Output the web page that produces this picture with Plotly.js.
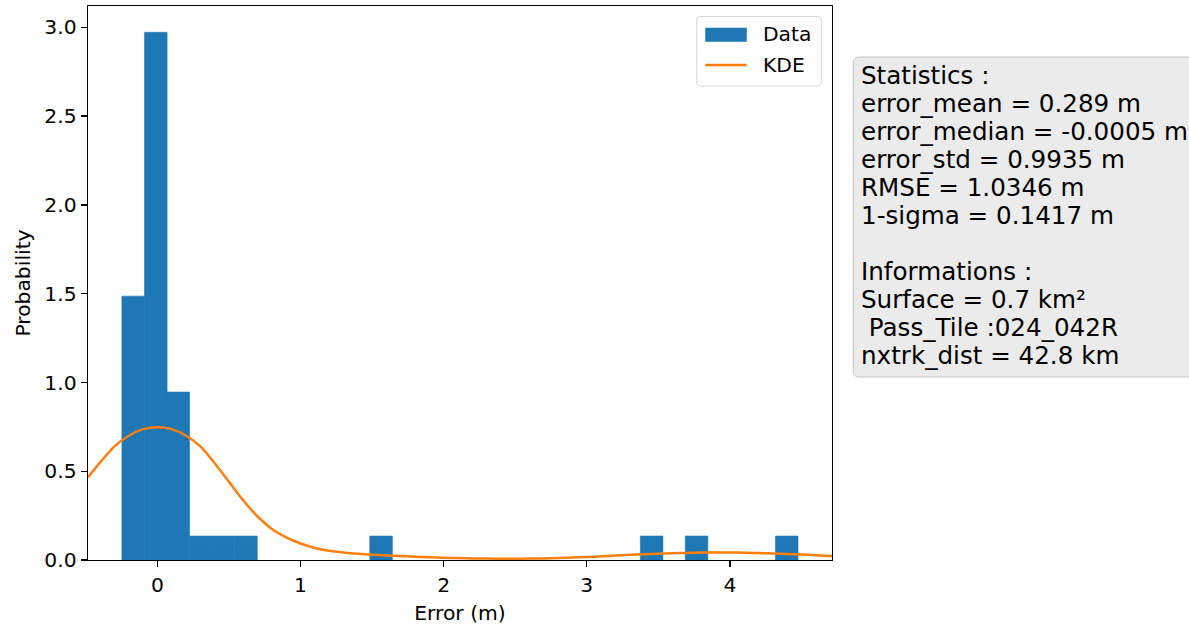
<!DOCTYPE html>
<html>
<head>
<meta charset="utf-8">
<script src="https://cdn.plot.ly/plotly-3.0.1.min.js"></script>
<style>html,body{margin:0;padding:0;background:#fff;}#chart{width:1189px;height:626px;}</style>
</head>
<body>
<div id="chart"></div>
<script>
// ---- Data ----
const binWidth = 0.1575;
const binLeft = [-0.248, -0.090, 0.067, 0.225, 0.382, 0.540, 1.484, 3.374, 3.688, 4.318];
const binDensity = [1.486, 2.972, 0.946, 0.135, 0.135, 0.135, 0.135, 0.135, 0.135, 0.135];

const kdeX = [-0.485, -0.4, -0.3, -0.2, -0.1, 0.0, 0.1, 0.2, 0.3, 0.4, 0.5, 0.6, 0.7, 0.8, 0.9, 1.0,
              1.1, 1.2, 1.3, 1.4, 1.5, 1.6, 1.7, 1.8, 1.9, 2.0, 2.1, 2.2, 2.3, 2.4, 2.5, 2.6, 2.7,
              2.8, 2.9, 3.0, 3.1, 3.2, 3.3, 3.4, 3.5, 3.6, 3.7, 3.8, 3.9, 4.0, 4.1, 4.2, 4.3, 4.4,
              4.5, 4.6, 4.7, 4.713];
const kdeY = [0.466, 0.550, 0.640, 0.700, 0.737, 0.748, 0.737, 0.700, 0.640, 0.545, 0.440, 0.335,
              0.245, 0.175, 0.128, 0.093, 0.068, 0.052, 0.042, 0.035, 0.030, 0.026, 0.023, 0.019,
              0.016, 0.013, 0.011, 0.009, 0.008, 0.007, 0.007, 0.008, 0.009, 0.011, 0.014, 0.017,
              0.021, 0.025, 0.029, 0.032, 0.035, 0.038, 0.040, 0.042, 0.042, 0.042, 0.041, 0.039,
              0.037, 0.034, 0.031, 0.027, 0.023, 0.023];

const xTicks = [0, 1, 2, 3, 4];
const yTicks = [0.0, 0.5, 1.0, 1.5, 2.0, 2.5, 3.0];

const legendLabels = ["Data", "KDE"];
const statsLines = [
  "Statistics :",
  "error_mean = 0.289 m",
  "error_median = -0.0005 m",
  "error_std = 0.9935 m",
  "RMSE = 1.0346 m",
  "1-sigma = 0.1417 m",
  "",
  "Informations :",
  "Surface = 0.7 km²",
  " Pass_Tile :024_042R",
  "nxtrk_dist = 42.8 km"
];

// ---- Layout helpers (pixel -> paper) ----
const L = 88, T = 6, W = 743.7, H = 554;
const FONT = "DejaVu Sans, Liberation Sans, sans-serif";
const FS = 20.3, FS_BOX = 24.6;
function px(x) { return (x - L) / W; }
function py(y) { return (T + H - y) / H; }
function rrect(x0, y0, x1, y1, r) {
  const p = (x, y) => px(x) + "," + py(y);
  return "M" + p(x0 + r, y0) + " L" + p(x1 - r, y0) + " Q" + p(x1, y0) + " " + p(x1, y0 + r) +
         " L" + p(x1, y1 - r) + " Q" + p(x1, y1) + " " + p(x1 - r, y1) +
         " L" + p(x0 + r, y1) + " Q" + p(x0, y1) + " " + p(x0, y1 - r) +
         " L" + p(x0, y0 + r) + " Q" + p(x0, y0) + " " + p(x0 + r, y0) + " Z";
}

const traces = [
  {
    type: "bar", x: binLeft, y: binDensity, width: binWidth, offset: 0,
    marker: { color: "#1f77b4", line: { color: "#1f77b4", width: 0.6 } },
    name: legendLabels[0], showlegend: false, hoverinfo: "skip"
  },
  {
    type: "scatter", mode: "lines", x: kdeX, y: kdeY,
    line: { color: "#ff7f0e", width: 2.5, shape: "spline", smoothing: 0.8 },
    name: legendLabels[1], showlegend: false, hoverinfo: "skip"
  }
];

const shapes = [
  // statistics box
  { type: "path", xref: "paper", yref: "paper", layer: "above",
    path: rrect(853, 57, 1215, 377, 6),
    fillcolor: "#ebebeb", line: { color: "#c4c4c4", width: 1 } },
  // legend frame
  { type: "path", xref: "paper", yref: "paper", layer: "above",
    path: rrect(696.5, 16.5, 821, 86, 4),
    fillcolor: "rgba(255,255,255,0.85)", line: { color: "#d6d6d6", width: 1 } },
  // legend patch (Data)
  { type: "rect", xref: "paper", yref: "paper", layer: "above",
    x0: px(705), x1: px(746.5), y0: py(27.7), y1: py(41.7),
    fillcolor: "#1f77b4", line: { width: 0 } },
  // legend line (KDE)
  { type: "line", xref: "paper", yref: "paper", layer: "above",
    x0: px(705), x1: px(746.5), y0: py(65), y1: py(65),
    line: { color: "#ff7f0e", width: 2.5 } }
];

const annotations = [];
annotations.push({ xref: "paper", yref: "paper", x: px(761), y: py(34.5), xanchor: "left", yanchor: "middle",
  text: legendLabels[0], showarrow: false, font: { family: FONT, size: FS, color: "#000" } });
annotations.push({ xref: "paper", yref: "paper", x: px(761), y: py(65), xanchor: "left", yanchor: "middle",
  text: legendLabels[1], showarrow: false, font: { family: FONT, size: FS, color: "#000" } });

statsLines.forEach((s, i) => {
  if (!s) return;
  const baseline = 84.3 + 28 * i;
  annotations.push({ xref: "paper", yref: "paper", x: px(859), y: py(baseline - 8.6), xanchor: "left", yanchor: "middle",
    text: s.replace(/ /g, "&nbsp;"), showarrow: false, font: { family: FONT, size: FS_BOX, color: "#000" } });
});

const axisCommon = {
  showgrid: false, zeroline: false, showline: true, mirror: true,
  linecolor: "#000", linewidth: 1.3, ticks: "outside", ticklen: 6, tickwidth: 1.3, tickcolor: "#000",
  tickfont: { family: FONT, size: FS, color: "#000" }
};

const layout = {
  width: 1189, height: 626,
  margin: { l: L, r: 1189 - L - W, t: T, b: 626 - T - H, pad: 0 },
  paper_bgcolor: "#fff", plot_bgcolor: "#fff",
  bargap: 0, showlegend: false,
  font: { family: FONT, color: "#000" },
  xaxis: Object.assign({}, axisCommon, {
    range: [-0.485, 4.713], tickvals: xTicks, ticktext: xTicks.map(String),
    title: { text: "Error (m)", font: { family: FONT, size: FS, color: "#000" }, standoff: 10 }
  }),
  yaxis: Object.assign({}, axisCommon, {
    range: [0, 3.12], tickvals: yTicks, ticktext: yTicks.map(v => v.toFixed(1)),
    title: { text: "Probability", font: { family: FONT, size: FS, color: "#000" }, standoff: 8 }
  }),
  shapes: shapes,
  annotations: annotations
};

Plotly.newPlot("chart", traces, layout, { staticPlot: true, displayModeBar: false });
</script>
</body>
</html>
